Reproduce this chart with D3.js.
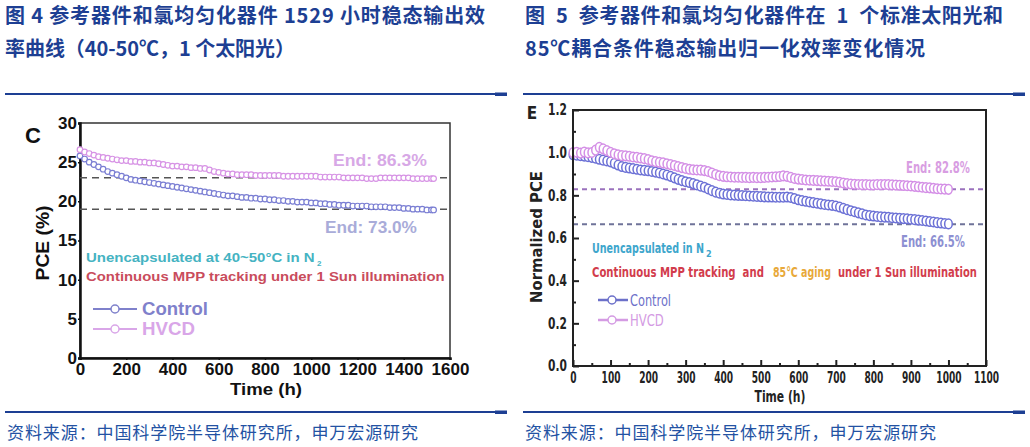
<!DOCTYPE html>
<html>
<head>
<meta charset="utf-8">
<script src="https://cdn.jsdelivr.net/npm/d3@7/dist/d3.min.js"></script>
<style>
  body { margin: 0; background: #fff; }
  svg text { font-family: "Liberation Sans", Arial, sans-serif; }
</style>
</head>
<body>
<div id="canvas"></div>
<script>
// ---- panel C: PCE (%) vs time, 40-50 C ----
const hoursC = [0,20,40,60,80,100,120,140,160,180,200,220,240,260,280,300,320,340,360,380,
  400,420,440,460,480,500,520,540,560,580,600,620,640,660,680,700,720,740,760,780,
  800,820,840,860,880,900,920,940,960,980,1000,1020,1040,1060,1080,1100,1120,1140,1160,1180,
  1200,1220,1240,1260,1280,1300,1320,1340,1360,1380,1400,1420,1440,1460,1480,1500,1520,1529];
const pceHVCD = [26.6,26.3,26.1,25.9,25.7,25.6,25.5,25.4,25.3,25.2,
  25.2,25.1,25.1,25.0,25.0,24.9,24.9,24.8,24.7,24.6,
  24.5,24.5,24.4,24.4,24.3,24.3,24.2,24.2,24.0,23.8,
  23.7,23.6,23.5,23.5,23.4,23.4,23.4,23.4,23.3,23.3,
  23.3,23.3,23.3,23.3,23.2,23.2,23.2,23.2,23.2,23.2,
  23.2,23.2,23.1,23.1,23.1,23.1,23.1,23.0,23.0,23.0,
  23.0,23.0,22.9,22.9,22.9,23.0,23.0,23.0,23.0,23.0,
  23.0,23.0,22.9,22.9,22.9,22.9,22.9,22.9];
const pceControl = [25.8,25.4,25.0,24.7,24.4,24.1,23.8,23.6,23.4,23.2,
  23.0,22.8,22.7,22.6,22.5,22.4,22.3,22.2,22.1,22.0,
  21.9,21.8,21.7,21.6,21.5,21.4,21.3,21.2,21.1,21.0,
  20.9,20.8,20.7,20.7,20.6,20.5,20.5,20.4,20.4,20.3,
  20.3,20.2,20.2,20.1,20.1,20.0,20.0,19.9,19.9,19.9,
  19.8,19.8,19.7,19.7,19.6,19.6,19.5,19.5,19.5,19.4,
  19.4,19.4,19.4,19.3,19.3,19.3,19.3,19.2,19.2,19.2,
  19.1,19.1,19.0,19.0,19.0,18.9,18.9,18.9];
const xTicksC = [0,200,400,600,800,1000,1200,1400,1600];
const yTicksC = [0,5,10,15,20,25,30];
const refLinesC = [23.0, 19.0];

// ---- panel E: normalized PCE vs time, 85 C ----
const hoursE = [0,10,20,30,40,50,60,70,80,90,100,110,120,130,140,150,160,170,180,190,
  200,210,220,230,240,250,260,270,280,290,300,310,320,330,340,350,360,370,380,390,
  400,410,420,430,440,450,460,470,480,490,500,510,520,530,540,550,560,570,580,590,
  600,610,620,630,640,650,660,670,680,690,700,710,720,730,740,750,760,770,780,790,
  800,810,820,830,840,850,860,870,880,890,900,910,920,930,940,950,960,970,980,990,1000];
const normHVCD = [1.000,1.002,0.998,1.003,0.999,1.001,1.012,1.025,1.018,1.010,
  1.002,0.995,0.990,0.986,0.985,0.983,0.980,0.978,0.975,0.972,
  0.968,0.962,0.958,0.955,0.952,0.948,0.944,0.940,0.935,0.930,
  0.926,0.922,0.920,0.919,0.918,0.916,0.912,0.905,0.898,0.892,
  0.889,0.887,0.886,0.885,0.885,0.884,0.884,0.883,0.884,0.883,
  0.883,0.884,0.885,0.886,0.887,0.888,0.891,0.889,0.884,0.879,
  0.876,0.874,0.872,0.871,0.870,0.869,0.868,0.867,0.866,0.865,
  0.864,0.861,0.858,0.855,0.853,0.852,0.851,0.850,0.850,0.849,
  0.849,0.850,0.850,0.851,0.850,0.849,0.848,0.847,0.846,0.845,
  0.844,0.842,0.840,0.838,0.836,0.835,0.833,0.831,0.830,0.829,0.828];
const normControl = [0.990,0.988,0.986,0.984,0.981,0.978,0.974,0.969,0.965,0.961,
  0.957,0.950,0.942,0.935,0.931,0.928,0.925,0.922,0.919,0.917,
  0.915,0.912,0.909,0.905,0.900,0.895,0.889,0.882,0.875,0.869,
  0.864,0.860,0.855,0.849,0.843,0.838,0.830,0.822,0.815,0.810,
  0.806,0.804,0.802,0.801,0.800,0.799,0.798,0.797,0.796,0.795,
  0.794,0.793,0.792,0.792,0.791,0.791,0.791,0.792,0.790,0.785,
  0.779,0.775,0.772,0.769,0.766,0.763,0.760,0.757,0.755,0.753,
  0.750,0.745,0.739,0.733,0.728,0.723,0.718,0.713,0.708,0.705,
  0.703,0.701,0.699,0.698,0.697,0.695,0.694,0.692,0.691,0.690,
  0.688,0.686,0.684,0.682,0.680,0.677,0.675,0.672,0.670,0.668,0.666];
const xTicksE = [0,100,200,300,400,500,600,700,800,900,1000,1100];
const xMinorE = [50,150,250,350,450,550,650,750,850,950,1050];
const yTicksE = [0,0.2,0.4,0.6,0.8,1.0,1.2];
const yMinorE = [0.1,0.3,0.5,0.7,0.9,1.1];
const refLinesE = [0.828, 0.665];

const blue = "#1d3f93";

const svg = d3.select("#canvas").append("svg")
  .attr("width", 1030).attr("height", 447);

// ---- headings, rules and sources ----
function title(x, y, str, len) {
  svg.append("text").attr("x", x).attr("y", y)
    .style("font-family", "'Noto Sans CJK SC', sans-serif")
    .style("font-weight", "bold").style("font-size", "20px")
    .style("white-space", "pre")
    .attr("fill", blue)
    .attr("textLength", len).attr("lengthAdjust", "spacing")
    .text(str);
}
title(5, 23, "图 4 参考器件和氯均匀化器件 1529 小时稳态输出效", 480);
title(5, 56, "率曲线（40-50℃，1 个太阳光）", 290);
title(525, 23, "图  5  参考器件和氯均匀化器件在  1  个标准太阳光和", 478);
title(525, 56, "85℃耦合条件稳态输出归一化效率变化情况", 400);

[[5, 507], [523, 1025]].forEach(([a, b]) => {
  [94, 412].forEach(yy => {
    svg.append("line").attr("x1", a).attr("x2", b).attr("y1", yy).attr("y2", yy)
      .attr("stroke", blue).attr("stroke-width", 2);
    svg.append("rect").attr("x", b - 12).attr("y", yy - 1.5).attr("width", 12).attr("height", 3.5)
      .attr("fill", blue);
  });
  svg.append("text").attr("x", a + 2).attr("y", 439)
    .style("font-family", "'Noto Sans CJK SC', sans-serif").style("font-size", "17px")
    .attr("fill", "#2352a3")
    .attr("textLength", 411).attr("lengthAdjust", "spacing")
    .text("资料来源：中国科学院半导体研究所，申万宏源研究");
});

// text squeezed/stretched horizontally to a given width (len) with a scale transform
function txt(g, x, y, str, size, fill, len, anchor, family) {
  const t = g.append("text")
    .style("font-size", size + "px").style("font-weight", "bold")
    .style("white-space", "pre")
    .attr("fill", fill).attr("text-anchor", anchor || "start");
  if (family) t.style("font-family", family);
  t.text(str);
  let sx = 1;
  if (len) sx = len / t.node().getComputedTextLength();
  t.attr("transform", `translate(${x},${y}) scale(${sx},1)`);
  return t;
}

// ================= panel C =================
const gC = svg.append("g");
const xC = d3.scaleLinear().domain([0, 1600]).range([80, 450]);
const yC = d3.scaleLinear().domain([0, 30]).range([358, 123]);

gC.append("rect").attr("x", 80).attr("y", 123).attr("width", 370).attr("height", 235)
  .attr("fill", "none").attr("stroke", "#333").attr("stroke-width", 1.5);

const axC_x = gC.append("g").attr("transform", "translate(0,358)")
  .call(d3.axisBottom(xC).tickValues(xTicksC).tickSize(2).tickPadding(3).tickFormat(d3.format("d")));
const axC_y = gC.append("g").attr("transform", "translate(80,0)")
  .call(d3.axisLeft(yC).tickValues(yTicksC).tickSize(2).tickPadding(1));
[axC_x, axC_y].forEach(a => {
  a.select(".domain").attr("stroke", "#111").attr("stroke-width", 2.5);
  a.selectAll(".tick line").attr("stroke", "#111").attr("stroke-width", 1.5);
  a.selectAll("text").style("font-size", "17px").style("font-weight", "bold")
    .style("font-family", "'Liberation Sans', Arial, sans-serif").attr("fill", "#111");
});

refLinesC.forEach(v => {
  gC.append("line").attr("x1", xC(0)).attr("x2", xC(1600)).attr("y1", yC(v)).attr("y2", yC(v))
    .attr("stroke", "#555").attr("stroke-width", 1.5).attr("stroke-dasharray", "7,5");
});

const seriesC = [
  { vals: pceControl, color: "#7a7ed3" },
  { vals: pceHVCD, color: "#d793e5" }
];
seriesC.forEach(s => {
  gC.append("g").selectAll("circle").data(hoursC).enter().append("circle")
    .attr("cx", d => xC(d))
    .attr("cy", (d, i) => yC(s.vals[i]))
    .attr("r", 2.8)
    .attr("fill", "#fff").attr("stroke", s.color).attr("stroke-width", 1.2);
});

txt(gC, 33, 143, "C", 22, "#111", null, "middle");
txt(gC, 266, 395, "Time (h)", 16.5, "#111", 72, "middle");
gC.append("g").attr("transform", "translate(49,243) rotate(-90)")
  .call(g => txt(g, 0, 0, "PCE (%)", 18, "#111", 75, "middle"));

txt(gC, 333, 166, "End: 86.3%", 17, "#d7a8e6", 94);
txt(gC, 325, 233, "End: 73.0%", 17, "#a9acd9", 92);

txt(gC, 86, 262, "Unencapsulated at 40~50°C in N", 13, "#45b3c2", 229);
gC.append("text").attr("x", 317).attr("y", 266).style("font-size", "8px").style("font-weight", "bold")
  .attr("fill", "#45b3c2").text("2");
txt(gC, 86, 281, "Continuous MPP tracking under 1 Sun illumination", 13, "#c94c5c", 359);

const legC = [
  { name: "Control", color: "#7f81cb", y: 309, len: 66 },
  { name: "HVCD", color: "#d9a6e8", y: 329, len: 53 }
];
legC.forEach(l => {
  gC.append("line").attr("x1", 93).attr("x2", 137).attr("y1", l.y).attr("y2", l.y)
    .attr("stroke", l.color).attr("stroke-width", 1.8);
  gC.append("circle").attr("cx", 115).attr("cy", l.y).attr("r", 4)
    .attr("fill", "#fff").attr("stroke", l.color).attr("stroke-width", 1.5);
  txt(gC, 142, l.y + 6, l.name, 18, l.color, l.len);
});

// ================= panel E =================
const gE = svg.append("g");
const xE = d3.scaleLinear().domain([0, 1100]).range([573, 986]);
const yE = d3.scaleLinear().domain([0, 1.2]).range([366, 110]);
const narrow = "'Liberation Sans Narrow', 'DejaVu Sans Condensed', 'Liberation Sans', sans-serif";

const axE_x = gE.append("g").attr("transform", "translate(0,366)")
  .call(d3.axisBottom(xE).tickValues(xTicksE).tickSizeInner(-6).tickSizeOuter(0).tickPadding(6)
    .tickFormat(d3.format("d")));
const axE_xm = gE.append("g").attr("transform", "translate(0,366)")
  .call(d3.axisBottom(xE).tickValues(xMinorE).tickSizeInner(-3).tickSizeOuter(0).tickFormat(""));
const axE_y = gE.append("g").attr("transform", "translate(573,0)")
  .call(d3.axisLeft(yE).tickValues(yTicksE).tickSizeInner(-6).tickSizeOuter(0).tickPadding(6)
    .tickFormat(d3.format(".1f")));
const axE_ym = gE.append("g").attr("transform", "translate(573,0)")
  .call(d3.axisLeft(yE).tickValues(yMinorE).tickSizeInner(-3).tickSizeOuter(0).tickFormat(""));
[axE_x, axE_xm, axE_y, axE_ym].forEach(a => {
  a.select(".domain").remove();
  a.selectAll(".tick line").attr("stroke", "#222").attr("stroke-width", 2);
  a.selectAll("text").style("font-size", "15.5px").style("font-weight", "bold")
    .style("font-family", narrow).attr("fill", "#222")
    .attr("textLength", function() { return this.textContent.length * 6.3; })
    .attr("lengthAdjust", "spacingAndGlyphs");
});

refLinesE.forEach((v, i) => {
  gE.append("line").attr("x1", xE(0)).attr("x2", xE(1100)).attr("y1", yE(v)).attr("y2", yE(v))
    .attr("stroke", i === 0 ? "#9a72bd" : "#6f7399").attr("stroke-width", 2)
    .attr("stroke-dasharray", "5,4");
});

const seriesE = [
  { vals: normControl, color: "#6c71d6" },
  { vals: normHVCD, color: "#d48fe6" }
];
seriesE.forEach(s => {
  gE.append("g").selectAll("ellipse").data(hoursE).enter().append("ellipse")
    .attr("cx", d => xE(d))
    .attr("cy", (d, i) => yE(s.vals[i]))
    .attr("rx", 3.8).attr("ry", 4.8)
    .attr("fill", "#fff").attr("stroke", s.color).attr("stroke-width", 1.5);
});

gE.append("rect").attr("x", 573).attr("y", 110).attr("width", 413).attr("height", 256)
  .attr("fill", "none").attr("stroke", "#222").attr("stroke-width", 2);

function txtE(g, x, y, str, size, fill, len, anchor) {
  return txt(g, x, y, str, size, fill, len, anchor, narrow);
}
txtE(gE, 532, 119, "E", 17, "#222", null, "middle");
txtE(gE, 780, 402, "Time (h)", 15, "#222", 51, "middle");
gE.append("g").attr("transform", "translate(542,237) rotate(-90)")
  .call(g => txtE(g, 0, 0, "Normalized PCE", 15, "#222", 132, "middle"));

txtE(gE, 906, 173, "End: 82.8%", 15, "#d89de2", 64);
txtE(gE, 901, 247, "End: 66.5%", 15, "#8d90d2", 64);

txtE(gE, 592, 253, "Unencapsulated in N", 14, "#3ea6cc", 112);
gE.append("text").attr("x", 706).attr("y", 257).style("font-size", "9px").style("font-weight", "bold")
  .style("font-family", narrow).attr("fill", "#3ea6cc").text("2");

txtE(gE, 592, 277, "Continuous MPP tracking  and", 14, "#d23c4c", 172);
txtE(gE, 773, 277, "85°C aging", 14, "#e8a93a", 58);
txtE(gE, 838, 277, "under 1 Sun illumination", 14, "#d23c4c", 139);

const legE = [
  { name: "Control", color: "#6c70c9", y: 300, len: 47 },
  { name: "HVCD", color: "#d49be3", y: 320, len: 37 }
];
legE.forEach(l => {
  gE.append("line").attr("x1", 598).attr("x2", 628).attr("y1", l.y).attr("y2", l.y)
    .attr("stroke", l.color).attr("stroke-width", 2.5);
  gE.append("circle").attr("cx", 612).attr("cy", l.y).attr("r", 4)
    .attr("fill", "#fff").attr("stroke", l.color).attr("stroke-width", 1.5);
  txtE(gE, 630, l.y + 6, l.name, 16, l.color, l.len).style("font-weight", "normal");
});
</script>
</body>
</html>
